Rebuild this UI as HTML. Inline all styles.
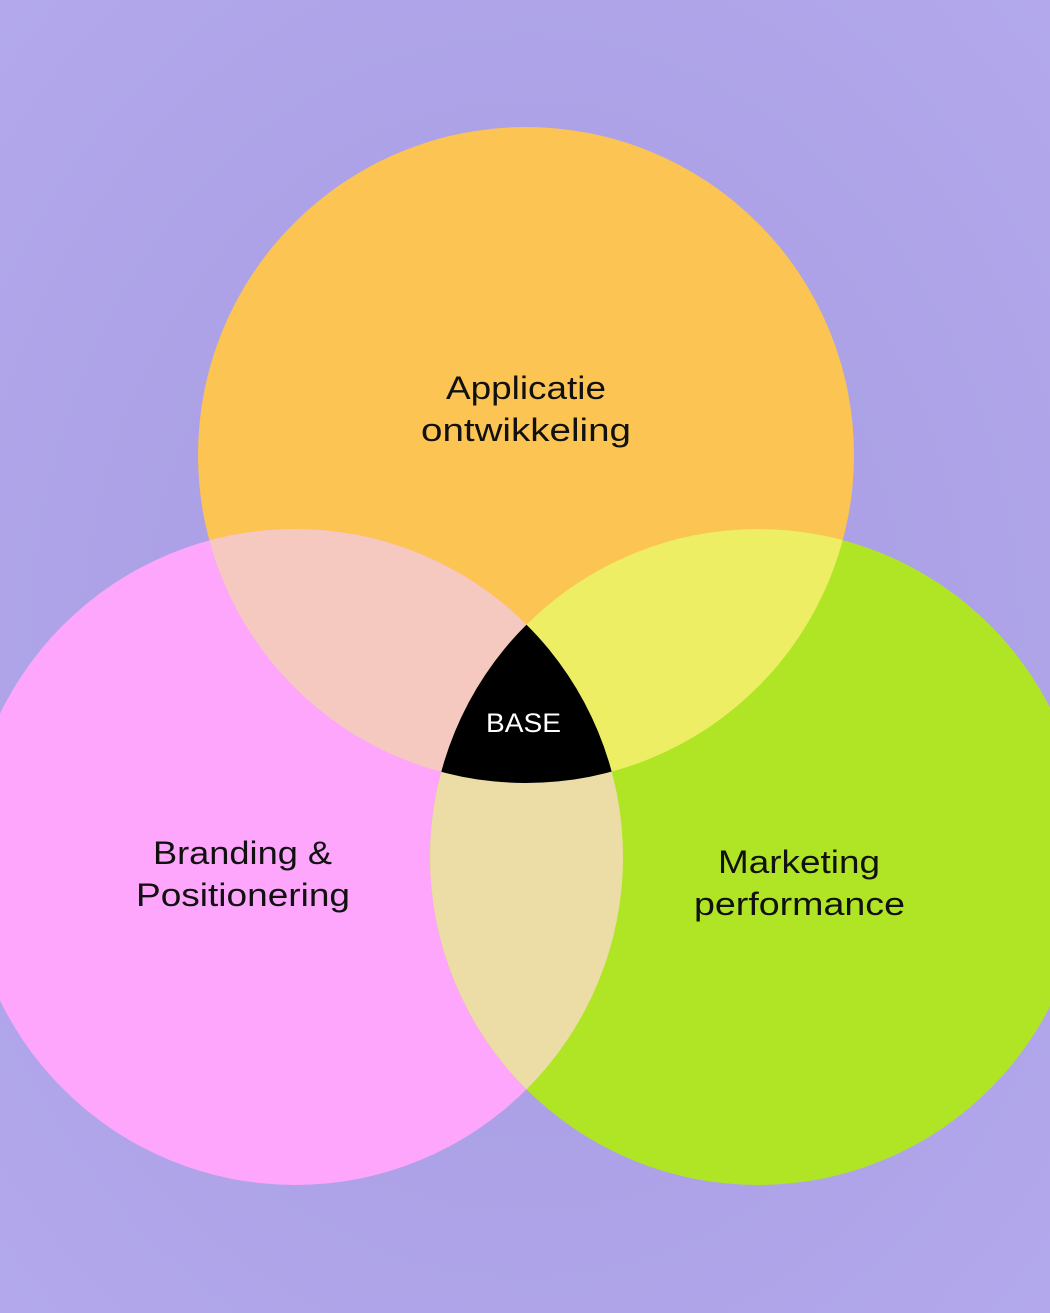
<!DOCTYPE html>
<html><head><meta charset="utf-8"><style>
html,body{margin:0;padding:0;width:1050px;height:1313px;overflow:hidden;}
svg{display:block}
text{font-family:"Liberation Sans",sans-serif;}
</style></head><body>
<svg width="1050" height="1313" viewBox="0 0 1050 1313" xmlns="http://www.w3.org/2000/svg">
<defs>
<radialGradient id="bg" cx="50%" cy="50%" r="70%">
<stop offset="0" stop-color="#a59ae0"/>
<stop offset="1" stop-color="#b3a8ec"/>
</radialGradient>
<clipPath id="cT"><circle cx="526" cy="455" r="328"/></clipPath>
<clipPath id="cL"><circle cx="295" cy="857" r="328"/></clipPath>
<clipPath id="cR"><circle cx="758" cy="857" r="328"/></clipPath>
</defs>
<rect width="1050" height="1313" fill="url(#bg)"/>
<circle cx="526" cy="455" r="328" fill="#fcc453"/>
<circle cx="295" cy="857" r="328" fill="#fda6fc"/>
<circle cx="758" cy="857" r="328" fill="#b0e526"/>
<g clip-path="url(#cT)"><circle cx="295" cy="857" r="328" fill="#f5c9c0"/><circle cx="758" cy="857" r="328" fill="#edee63"/></g>
<g clip-path="url(#cL)"><circle cx="758" cy="857" r="328" fill="#ecdda6"/></g>
<g clip-path="url(#cT)"><g clip-path="url(#cL)"><circle cx="758" cy="857" r="328" fill="#000"/></g></g>
<g font-size="32" fill="#111" lengthAdjust="spacingAndGlyphs">
<text x="446" y="399" textLength="160" lengthAdjust="spacingAndGlyphs">Applicatie</text>
<text x="421" y="441" textLength="210" lengthAdjust="spacingAndGlyphs">ontwikkeling</text>
<text x="153" y="864" textLength="179" lengthAdjust="spacingAndGlyphs">Branding &amp;</text>
<text x="136" y="906" textLength="214" lengthAdjust="spacingAndGlyphs">Positionering</text>
<text x="718" y="873" textLength="162" lengthAdjust="spacingAndGlyphs">Marketing</text>
<text x="694" y="915" textLength="211" lengthAdjust="spacingAndGlyphs">performance</text>
</g>
<text x="486" y="732" font-size="27" fill="#fff" textLength="75" lengthAdjust="spacingAndGlyphs">BASE</text>
</svg>
</body></html>
